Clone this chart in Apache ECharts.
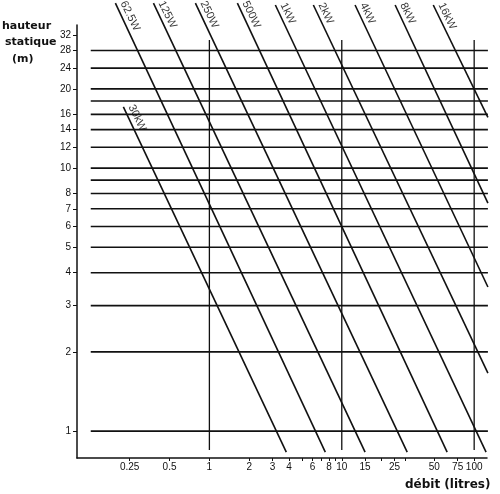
<!DOCTYPE html>
<html>
<head>
<meta charset="utf-8">
<script src="https://cdn.jsdelivr.net/npm/echarts@6/dist/echarts.min.js"></script>
<style>
html,body{margin:0;padding:0;background:#fff;}
#chart{width:500px;height:494px;}
</style>
</head>
<body>
<div id="chart"></div>
<script>
// ---- data ----
const powerNames = ['30kW', '62.5W', '125W', '250W', '500W', '1kW', '2kW', '4kW', '8kW', '16kW'];
// start point (top) of each power line: flow (litres), head (m)
const startQ = [0.224, 0.195, 0.378, 0.784, 1.627, 3.15, 6.10, 12.6, 25.3, 49.1];
const startH = [17.1, 42.4, 42.4, 42.4, 42.4, 41.7, 41.7, 41.7, 41.7, 41.7];
// end point (bottom / right) of each power line
const endQ = [3.81, 7.51, 15.0, 31.2, 62.5, 123, 127, 127, 127, 127];
const endH = [0.832, 0.832, 0.832, 0.832, 0.832, 0.832, 1.662, 3.53, 7.36, 15.6];

// horizontal reference lines (head, m)
const headLines = [1, 2, 3, 4, 5, 6, 7, 8, 9, 10, 12, 14, 16, 18, 20, 24, 28];
const headLineQ = [0.127, 127];
// vertical reference lines (flow, litres)
const flowLines = [1, 10, 100];
const flowLineH = [0.847, 30.7];

// tick labels
const yTickLabels = [1, 2, 3, 4, 5, 6, 7, 8, 10, 12, 14, 16, 20, 24, 28, 32];
const xTickLabels = [0.25, 0.5, 1, 2, 3, 4, 6, 8, 10, 15, 25, 50, 75, 100];
const xTickMarks = [0.25, 0.5, 1, 2, 3, 4, 5, 6, 7, 8, 9, 10, 15, 20, 25, 30, 50, 75, 100];

// ---- build chart ----
const ink = '#111';
const series = [];

headLines.forEach(h => {
  series.push({
    type: 'line', silent: true, symbol: 'none', clip: false, animation: false,
    lineStyle: { color: ink, width: 1.6 },
    data: headLineQ.map(q => [q, h])
  });
});

flowLines.forEach(q => {
  series.push({
    type: 'line', silent: true, symbol: 'none', clip: false, animation: false,
    lineStyle: { color: ink, width: 1.3 },
    data: flowLineH.map(h => [q, h])
  });
});

powerNames.forEach((name, i) => {
  series.push({
    type: 'line', silent: true, symbol: 'none', clip: false, animation: false,
    lineStyle: { color: ink, width: 1.6 },
    data: [[startQ[i], startH[i]], [endQ[i], endH[i]]]
  });
});

series.push({
  type: 'scatter', silent: true, clip: false, animation: false,
  symbolSize: 0,
  data: powerNames.map((n, i) => [startQ[i], startH[i], n]),
  label: {
    show: true,
    position: [0, 0],
    offset: [2, -2],
    align: 'left',
    verticalAlign: 'bottom',
    rotate: -64,
    color: '#000',
    fontSize: 11,
    fontFamily: 'Liberation Sans, Arial, sans-serif',
    formatter: p => p.data[2]
  }
});

const titleFont = 'bold 11px "DejaVu Sans", sans-serif';
const chart = echarts.init(document.getElementById('chart'), null, { renderer: 'canvas' });
chart.setOption({
  backgroundColor: '#fff',
  animation: false,
  grid: { left: 77, top: 25, right: 13, bottom: 36, containLabel: false },
  xAxis: {
    type: 'log', logBase: 10, min: 0.1, max: 125,
    axisLine: { show: true, lineStyle: { color: ink, width: 1.5 } },
    axisTick: { show: true, length: 3, lineStyle: { color: ink }, customValues: xTickMarks },
    axisLabel: {
      show: true, color: ink, fontSize: 10, margin: 4,
      fontFamily: 'Liberation Sans, Arial, sans-serif',
      customValues: xTickLabels,
      formatter: v => String(Math.round(v * 100) / 100)
    },
    splitLine: { show: false },
    minorTick: { show: false }
  },
  yAxis: {
    type: 'log', logBase: 10, min: 0.79, max: 35,
    axisLine: { show: true, lineStyle: { color: ink, width: 1.5 } },
    axisTick: { show: true, length: 4, lineStyle: { color: ink }, customValues: yTickLabels },
    axisLabel: {
      show: true, color: ink, fontSize: 10, margin: 6,
      fontFamily: 'Liberation Sans, Arial, sans-serif',
      customValues: yTickLabels,
      formatter: v => String(Math.round(v))
    },
    splitLine: { show: false },
    minorTick: { show: false }
  },
  graphic: [
    { type: 'text', left: 2, top: 21, style: { text: 'hauteur', font: titleFont, fill: ink } },
    { type: 'text', left: 5, top: 37, style: { text: 'statique', font: titleFont, fill: ink } },
    { type: 'text', left: 12, top: 54, style: { text: '(m)', font: titleFont, fill: ink } },
    { type: 'text', left: 405, top: 479, style: { text: 'débit (litres)', font: 'bold 12px "DejaVu Sans", sans-serif', fill: ink } }
  ],
  series: series
});
</script>
</body>
</html>
